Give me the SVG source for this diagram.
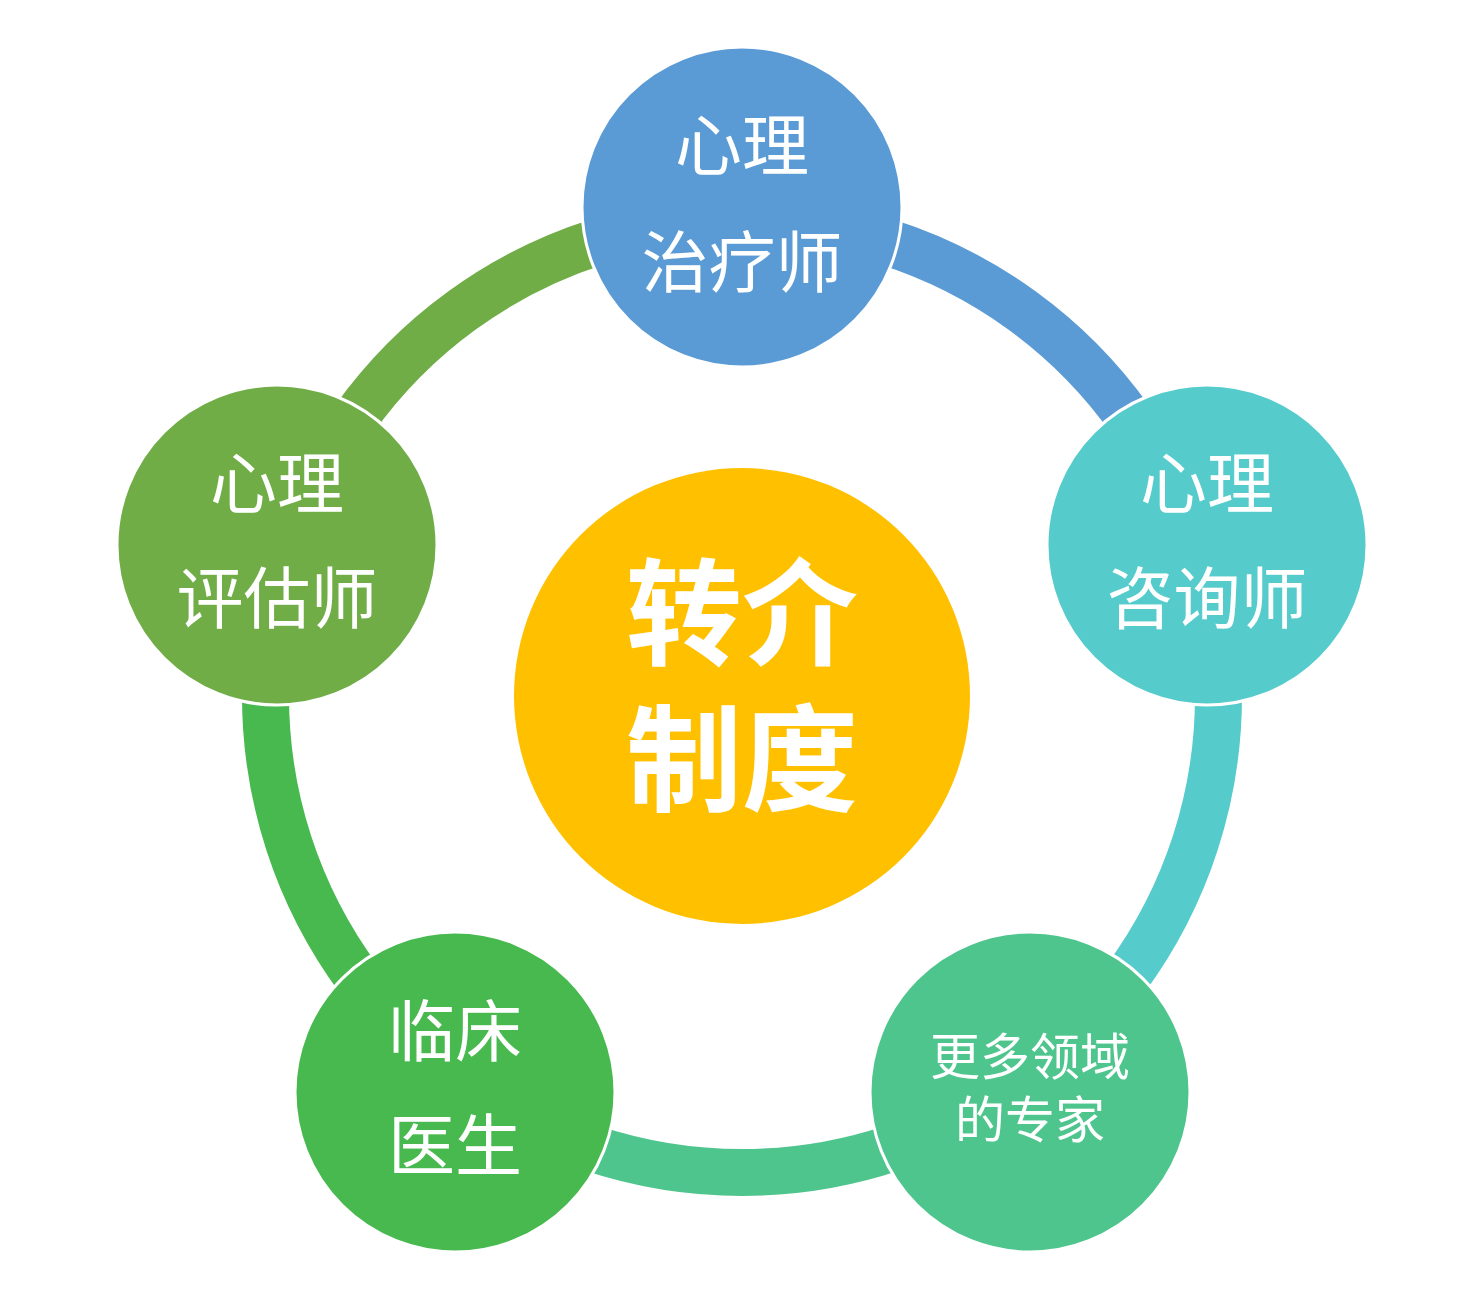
<svg xmlns="http://www.w3.org/2000/svg" width="1473" height="1303" viewBox="0 0 1473 1303">
<style>
.arc{fill:none;stroke-width:47;stroke-linecap:butt}
.node{stroke:#fff;stroke-width:3}
.t{font-family:"Noto Sans CJK SC","Noto Sans",sans-serif;fill:#fff;text-anchor:middle;font-size:67px;font-weight:400}
.s{font-size:50px}
.c{font-size:116px;font-weight:700}
</style>
<rect width="1473" height="1303" fill="#fff"/>
<g id="connectors">
<path class="arc" stroke="#5B9BD5" d="M742,219.5 A476.5,476.5 0 0 1 1195.18,548.75"/>
<path class="arc" stroke="#55CBCC" d="M1195.18,548.75 A476.5,476.5 0 0 1 1022.08,1081.5"/>
<path class="arc" stroke="#4FC58E" d="M1022.08,1081.5 A476.5,476.5 0 0 1 461.92,1081.5"/>
<path class="arc" stroke="#48B94F" d="M461.92,1081.5 A476.5,476.5 0 0 1 288.82,548.75"/>
<path class="arc" stroke="#70AD47" d="M288.82,548.75 A476.5,476.5 0 0 1 742,219.5"/>
</g>
<g id="center">
<circle cx="742" cy="696" r="228" fill="#FFC000"/>
<text class="t c" x="742" y="656">转介</text>
<text class="t c" x="742" y="802">制度</text>
</g>
<g id="node-top">
<circle class="node" cx="742" cy="207" r="160" fill="#5B9BD5"/>
<text class="t" x="742" y="170">心理</text>
<text class="t" x="742" y="287">治疗师</text>
</g>
<g id="node-right">
<circle class="node" cx="1207" cy="545" r="160" fill="#55CBCC"/>
<text class="t" x="1207" y="508">心理</text>
<text class="t" x="1207" y="623">咨询师</text>
</g>
<g id="node-bottom-right">
<circle class="node" cx="1030" cy="1092" r="160" fill="#4FC58E"/>
<text class="t s" x="1030" y="1075">更多领域</text>
<text class="t s" x="1030" y="1138">的专家</text>
</g>
<g id="node-bottom-left">
<circle class="node" cx="455" cy="1092" r="160" fill="#48B94F"/>
<text class="t" x="455" y="1056">临床</text>
<text class="t" x="455" y="1170">医生</text>
</g>
<g id="node-left">
<circle class="node" cx="277" cy="545" r="160" fill="#70AD47"/>
<text class="t" x="277" y="508">心理</text>
<text class="t" x="277" y="623">评估师</text>
</g>
</svg>
